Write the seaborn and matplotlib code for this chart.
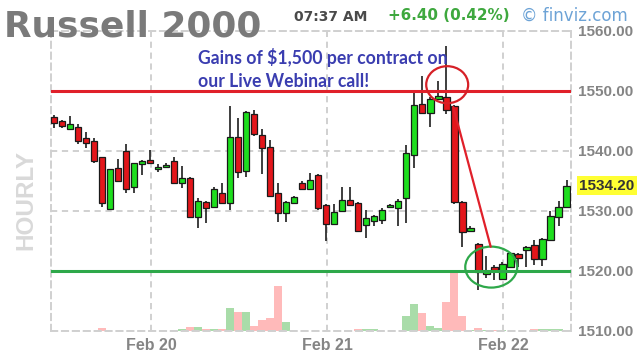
import matplotlib
matplotlib.use("Agg")
import matplotlib.pyplot as plt
import matplotlib.patches as mpatches
import numpy as np
import pandas as pd
import seaborn as sns

# ---------------- data (hourly candles) ----------------
opens = [1545.7, 1545.0, 1543.7, 1544.0, 1542.2, 1541.7, 1538.9, 1530.3, 1537.2, 1540.0,
         1533.9, 1537.8, 1538.4, 1536.95, 1537.3, 1538.3, 1534.7, 1535.4, 1529.0, 1531.5,
         1530.7, 1533.0, 1531.3, 1542.2, 1536.7, 1546.1, 1542.6, 1540.7, 1533.0, 1529.7,
         1531.3, 1534.7, 1533.7, 1536.0, 1531.0, 1527.8, 1530.0, 1531.8, 1531.3, 1527.7,
         1528.3, 1528.5, 1530.7, 1530.5, 1532.2, 1539.3, 1547.8, 1546.3, 1548.7, 1548.9,
         1547.4, 1531.5, 1526.7, 1524.45, 1519.4, 1520.7, 1518.7, 1520.7, 1522.8, 1523.4,
         1524.3, 1521.9, 1525.1, 1529.0, 1530.6]
highs = [1545.9, 1545.2, 1545.8, 1544.5, 1543.1, 1542.2, 1539.0, 1537.0, 1538.7, 1541.2,
         1538.0, 1538.5, 1540.1, 1537.8, 1537.9, 1539.0, 1537.4, 1535.6, 1532.1, 1531.6,
         1534.0, 1534.7, 1547.5, 1545.4, 1546.7, 1546.8, 1543.6, 1541.8, 1534.7, 1531.7,
         1532.5, 1534.9, 1536.3, 1536.2, 1531.2, 1531.2, 1533.9, 1533.9, 1531.5, 1530.2,
         1529.3, 1530.4, 1531.1, 1531.9, 1540.9, 1549.8, 1552.4, 1548.9, 1551.7, 1557.4,
         1547.6, 1531.7, 1527.4, 1524.6, 1522.45, 1520.9, 1521.4, 1523.2, 1523.0, 1524.2,
         1525.2, 1525.4, 1530.0, 1531.6, 1535.2]
lows = [1543.8, 1543.8, 1543.5, 1541.2, 1540.4, 1538.0, 1530.7, 1530.2, 1534.8, 1533.0,
        1533.0, 1536.0, 1537.8, 1536.5, 1537.1, 1534.5, 1533.8, 1528.8, 1527.1, 1528.0,
        1530.5, 1531.1, 1530.1, 1535.4, 1535.6, 1542.5, 1536.2, 1532.3, 1528.2, 1528.2,
        1531.1, 1533.4, 1533.5, 1530.2, 1525.0, 1527.6, 1529.8, 1530.8, 1526.5, 1525.5,
        1527.5, 1527.8, 1530.6, 1527.4, 1527.9, 1537.1, 1546.1, 1543.9, 1548.5, 1546.1,
        1531.2, 1524.0, 1526.5, 1516.8, 1518.8, 1518.5, 1518.5, 1520.5, 1520.7, 1520.7,
        1521.0, 1520.8, 1524.9, 1527.5, 1530.4]
closes = [1544.7, 1544.1, 1544.4, 1541.7, 1541.3, 1538.3, 1531.3, 1536.9, 1535.0, 1533.6,
          1537.9, 1538.3, 1537.9, 1537.3, 1537.7, 1534.7, 1535.4, 1529.0, 1531.6, 1530.4,
          1533.6, 1531.3, 1542.3, 1536.4, 1546.4, 1542.8, 1540.4, 1532.5, 1529.7, 1531.5,
          1532.3, 1533.6, 1535.2, 1530.4, 1527.8, 1529.8, 1531.8, 1531.0, 1526.7, 1528.8,
          1529.1, 1530.2, 1531.0, 1531.7, 1539.6, 1547.6, 1546.3, 1548.7, 1549.2, 1546.8,
          1531.4, 1526.5, 1527.2, 1519.8, 1519.95, 1520.1, 1521.2, 1523.0, 1522.1, 1524.0,
          1522.0, 1525.2, 1529.1, 1530.6, 1534.2]
volumes = [0, 0, 0, 0, 0, 0, 3, 0, 0, 0,
           0, 0, 0, 0, 0, 0, 2, 3.5, 3.5, 1.5,
           2, 2, 23, 19, 19, 5, 11, 13, 45, 9,
           0, 0, 0, 0, 0, 0, 0, 0, 2, 1.5,
           1.5, 0, 0, 0, 15, 27, 17.6, 5, 3, 29,
           58, 15, 0.5, 3, 1, 1, 1, 0, 0, 0,
           2, 1.5, 1.5, 1.5, 1]

day_ticks = [12.1, 34.1, 56.1]
day_labels = ["Feb 20", "Feb 21", "Feb 22"]
price_ticks = [1510, 1520, 1530, 1540, 1550, 1560]
resistance_level = 1550
support_level = 1520
last_price = 1534.20

title_text = "Russell 2000"
time_text = "07:37 AM"
change_text = "+6.40 (0.42%)"
source_text = "\u00a9 finviz.com"
side_text = "HOURLY"
note_text = "Gains of $1,500 per contract on\nour Live Webinar call!"

top_circle = (49.1, 1551.0)
bottom_circle = (54.6, 1520.6)
move_start = (49.86, 1547.3)
move_end = (54.53, 1524.0)

# ---------------- style ----------------
sns.set_style("white")
plt.rcParams["font.family"] = ["Liberation Sans", "DejaVu Sans"]

W, H = 644, 364
fig = plt.figure(figsize=(W / 100, H / 100), dpi=100)
L, R, T, B = 51, 571, 30.7, 330.7
ax = fig.add_axes([L / W, 1 - B / H, (R - L) / W, (B - T) / H])
ax2 = ax.twinx()
ax.set_zorder(ax2.get_zorder() + 1)
ax.patch.set_visible(False)

o = np.array(opens)
c = np.array(closes)
hi = np.array(highs)
lo = np.array(lows)
n = len(o)
idx = np.arange(n)
up = c >= o

# volume bars (behind)
vdf = pd.DataFrame({"idx": idx, "volume": volumes, "dir": np.where(up, "up", "down")})
sns.barplot(data=vdf, x="idx", y="volume", hue="dir",
            palette={"up": "#a9dca9", "down": "#ffbaba"},
            native_scale=True, width=1.0, dodge=False, errorbar=None,
            legend=False, saturation=1, linewidth=0, ax=ax2)
ax2.set_ylim(0, 300)
ax2.set_yticks([])
ax2.set_ylabel("")
ax2.set_xlabel("")
for s in ax2.spines.values():
    s.set_visible(False)

# grid
dash = (0, (3.2, 2.4))
grid_col = "#d0d0d0"
ax.grid(True, color=grid_col, linestyle=dash, linewidth=1.4)
ax.set_axisbelow(True)
for s in ax.spines.values():
    s.set_visible(True)
    s.set_color(grid_col)
    s.set_linestyle(dash)
    s.set_linewidth(1.4)

# candles
ax.vlines(idx, lo, hi, color="#1e1e1e", linewidth=1.2, zorder=3)
ax.bar(idx, np.abs(c - o), bottom=np.minimum(o, c), width=0.78,
       color=np.where(up, "#1ede1e", "#e3161b"), edgecolor="#1a1a1a",
       linewidth=0.9, zorder=4)

# levels
ax.axhline(resistance_level, color="#e0202a", linewidth=2.2, zorder=5)
ax.axhline(support_level, color="#2ea84a", linewidth=2.2, zorder=5)

# annotations
ax.add_patch(mpatches.Ellipse(top_circle, 5.24, 6.17, fill=False,
                              edgecolor="#d62027", linewidth=1.6, zorder=6))
ax.add_patch(mpatches.Ellipse(bottom_circle, 6.49, 6.83, fill=False,
                              edgecolor="#2ea84a", linewidth=1.6, zorder=6))
ax.plot([move_start[0], move_end[0]], [move_start[1], move_end[1]],
        color="#e0202a", linewidth=1.6, zorder=6)

# axes
ax.set_xlim(-0.375, 64.56)
ax.set_ylim(1510, 1560)
ax.set_yticks(price_ticks, [f"{p:.2f}" for p in price_ticks])
ax.yaxis.tick_right()
ax.set_xticks(day_ticks, day_labels)
ax.tick_params(axis="y", length=0, pad=5, labelsize=11, labelcolor="#858585")
ax.tick_params(axis="x", length=0, pad=5, labelsize=11.5, labelcolor="#858585")
for lab in ax.get_xticklabels() + ax.get_yticklabels():
    lab.set_fontweight("bold")
ax.set_xlabel("")
ax.set_ylabel("")

# last price tag
ax.annotate(f"{last_price:.2f}", xy=(1, last_price), xycoords=("axes fraction", "data"),
            xytext=(8, 0), textcoords="offset pixels", ha="left", va="center",
            fontsize=11, fontweight="bold", color="#333333", annotation_clip=False,
            bbox=dict(boxstyle="square,pad=0.15", fc="#ffff33", ec="none"))

# header texts
def px(x, y):
    return x / W, 1 - y / H

fig.text(*px(4, 36.5), title_text, fontsize=25.8, fontweight="bold", color="#7a7a7a",
         family="DejaVu Sans", va="baseline", ha="left")
fig.text(*px(294, 20.7), time_text, fontsize=10, fontweight="bold", color="#4a4a4a",
         family="DejaVu Sans", va="baseline", ha="left")
fig.text(*px(388, 20.5), change_text, fontsize=10.9, fontweight="bold", color="#3ea83e",
         family="DejaVu Sans", va="baseline", ha="left")
fig.text(*px(521, 20.5), source_text, fontsize=12, color="#6da3d6",
         family="DejaVu Sans", va="baseline", ha="left")
fig.text(*px(26, 200), side_text, fontsize=17.5, fontweight="bold", color="#d9d9d9",
         rotation=90, ha="center", va="center")
fig.text(*px(197.5, 48), note_text, fontsize=12.7, fontweight="bold", color="#3a3db0",
         family="Lato", va="top", ha="left", linespacing=1.45)

fig.savefig("out.png", dpi=100)
